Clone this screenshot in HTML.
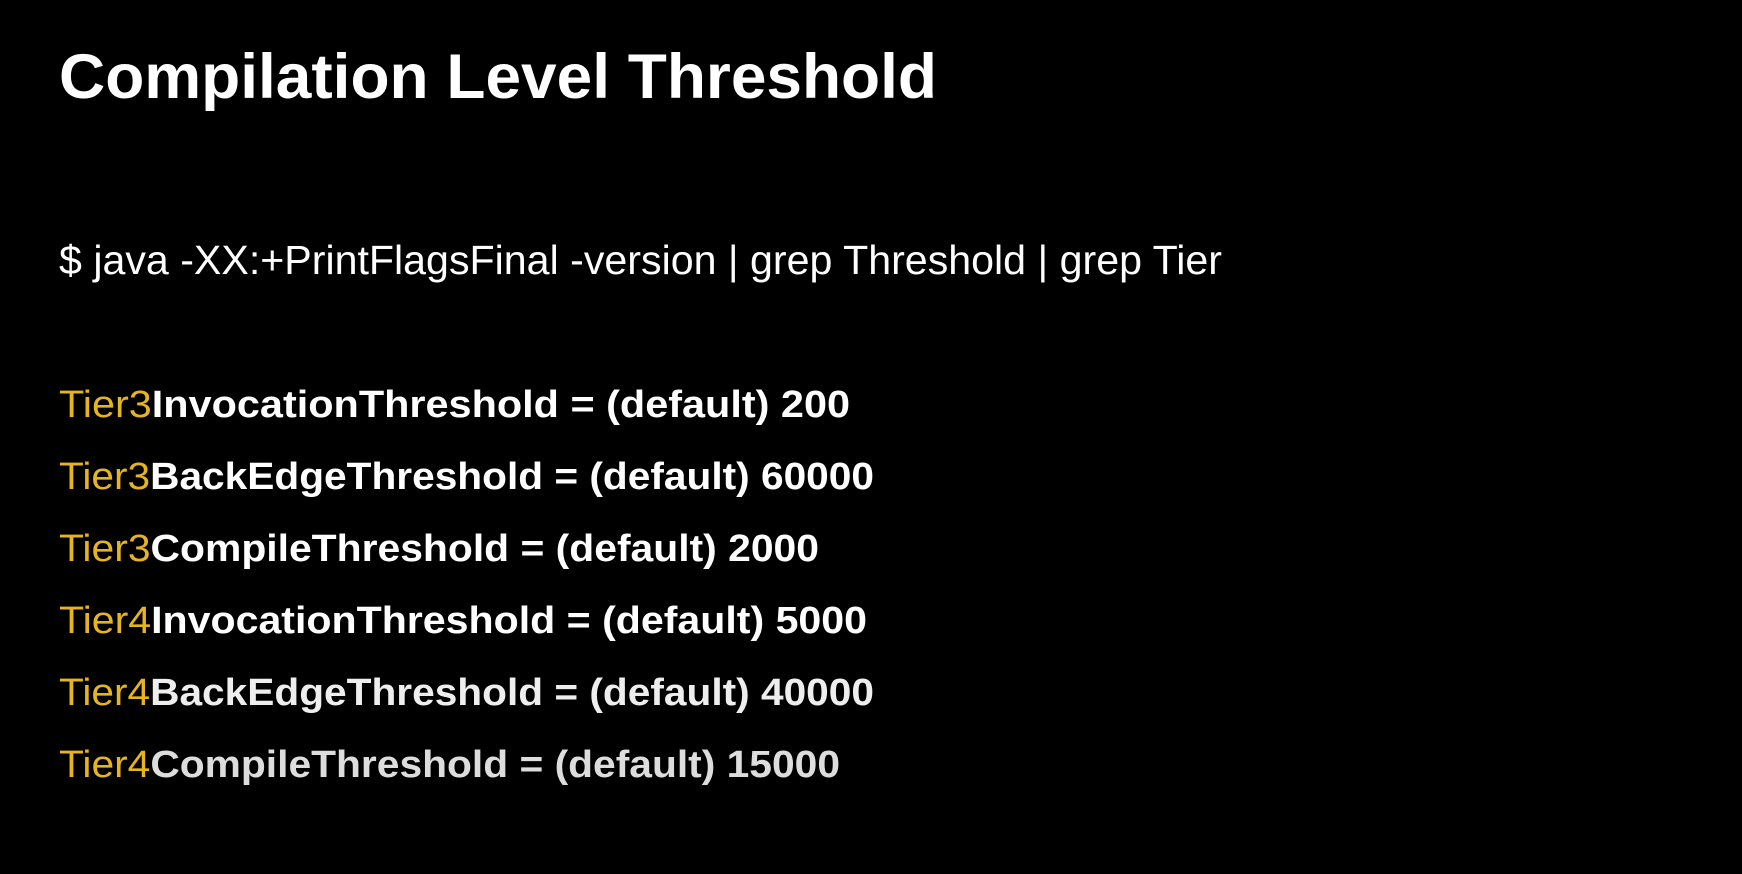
<!DOCTYPE html>
<html><head><meta charset="utf-8"><style>
html,body{margin:0;padding:0;background:#000;width:1742px;height:874px;overflow:hidden}
svg{display:block}
text{font-family:"Liberation Sans",sans-serif}
</style></head><body>
<svg width="1742" height="874" viewBox="0 0 1742 874">
<rect width="1742" height="874" fill="#000"/>
<text x="59" y="98" font-size="63" font-weight="bold" fill="#fff" textLength="878" lengthAdjust="spacingAndGlyphs">Compilation Level Threshold</text>
<text x="59" y="274" font-size="41" fill="#fff" textLength="1163" lengthAdjust="spacingAndGlyphs">$ java -XX:+PrintFlagsFinal -version | grep Threshold | grep Tier</text>
<g font-size="38" font-weight="bold">
<text x="59" y="417" fill="#fff" textLength="791" lengthAdjust="spacingAndGlyphs"><tspan fill="#e6b422" font-weight="normal">Tier3</tspan>InvocationThreshold  = (default) 200</text>
<text x="59" y="489" fill="#fff" textLength="815" lengthAdjust="spacingAndGlyphs"><tspan fill="#e6b422" font-weight="normal">Tier3</tspan>BackEdgeThreshold = (default) 60000</text>
<text x="59" y="561" fill="#fff" textLength="760" lengthAdjust="spacingAndGlyphs"><tspan fill="#e6b422" font-weight="normal">Tier3</tspan>CompileThreshold = (default) 2000</text>
<text x="59" y="633" fill="#fff" textLength="808" lengthAdjust="spacingAndGlyphs"><tspan fill="#e6b422" font-weight="normal">Tier4</tspan>InvocationThreshold = (default) 5000</text>
<text x="59" y="705" fill="#eee" textLength="815" lengthAdjust="spacingAndGlyphs"><tspan fill="#e6b422" font-weight="normal">Tier4</tspan>BackEdgeThreshold = (default) 40000</text>
<text x="59" y="777" fill="#ddd" textLength="781" lengthAdjust="spacingAndGlyphs"><tspan fill="#e6b422" font-weight="normal">Tier4</tspan>CompileThreshold = (default) 15000</text>
</g>
</svg>
</body></html>
